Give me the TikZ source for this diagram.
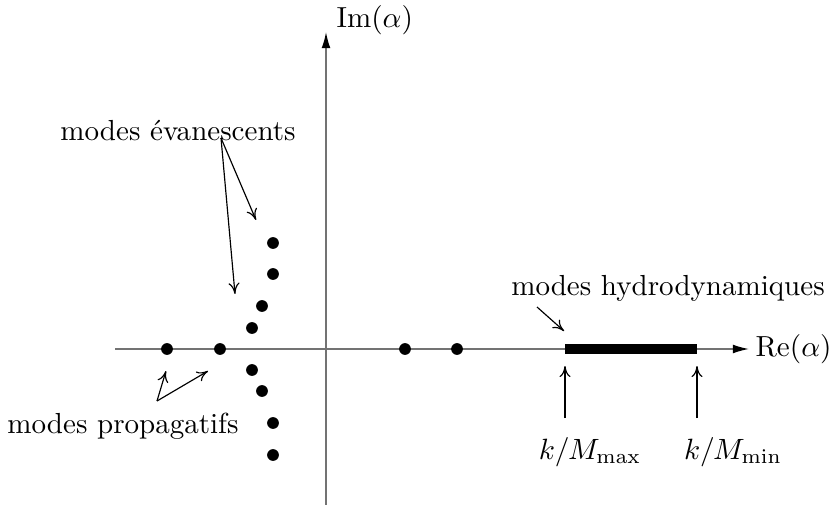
\documentclass[tikz,border=0pt]{standalone}
\usetikzlibrary{arrows.meta}
\begin{document}
\begin{tikzpicture}[x=0.341pt,y=-0.341pt,
  axis/.style={draw=black!55,line width=0.5pt,-{Latex[length=5.5pt,width=3pt,black]}},
  pole/.style={circle,fill=black,inner sep=0pt,minimum size=4pt},
  lab/.style={inner sep=0pt,font=\fontsize{9.9}{12}\selectfont},
  ptr/.style={draw=black,line width=0.4pt,-{To[length=3.8pt,width=3.8pt]}},
  band/.style={draw=black,line width=3.4pt}]
\useasboundingbox (0,0) rectangle (836,505);
% axes
\coordinate (xs) at (115,349);
\coordinate (xe) at (749,349);
\coordinate (ys) at (326,505);
\coordinate (ye) at (326,32);
\draw[axis] (xs) -- (xe);
\draw[axis] (ys) -- (ye);
\node[lab,anchor=west] (re) at (755,349) {Re$(\alpha)$};
\node[lab,anchor=west] (im) at (336,20) {Im$(\alpha)$};
% hydrodynamic band
\coordinate (b1) at (565,349);
\coordinate (b2) at (697,349);
\draw[band] (b1) -- (b2);
% poles
\node[pole] (p1) at (167,349) {};
\node[pole] (p2) at (220,349) {};
\node[pole] (p3) at (405,349) {};
\node[pole] (p4) at (457,349) {};
\node[pole] (e1) at (273,243) {};
\node[pole] (e2) at (273,274) {};
\node[pole] (e3) at (262,306) {};
\node[pole] (e4) at (252,328) {};
\node[pole] (f1) at (252,370) {};
\node[pole] (f2) at (262,391) {};
\node[pole] (f3) at (273,423) {};
\node[pole] (f4) at (273,455) {};
% labels
\node[lab] (ev) at (178,131) {modes \'evanescents};
\node[lab] (pr) at (123,426) {modes propagatifs};
\node[lab] (hy) at (668,288) {modes hydrodynamiques};
\node[lab] (kmax) at (590,452) {$k/M_{\max}$};
\node[lab] (kmin) at (733,452) {$k/M_{\min}$};
% pointers
\coordinate (evs) at (221,138);
\coordinate (eva) at (256,220);
\coordinate (evb) at (235,294);
\draw[ptr] (evs) -- (eva);
\draw[ptr] (evs) -- (evb);
\coordinate (prs) at (157,401);
\coordinate (pra) at (166,371);
\coordinate (prb) at (208,371);
\draw[ptr] (prs) -- (pra);
\draw[ptr] (prs) -- (prb);
\coordinate (hys) at (537,307);
\coordinate (hye) at (564,331);
\draw[ptr] (hys) -- (hye);
\coordinate (m1s) at (565,418);
\coordinate (m1e) at (565,366);
\draw[ptr] (m1s) -- (m1e);
\coordinate (m2s) at (697,418);
\coordinate (m2e) at (697,366);
\draw[ptr] (m2s) -- (m2e);
\end{tikzpicture}
\end{document}
